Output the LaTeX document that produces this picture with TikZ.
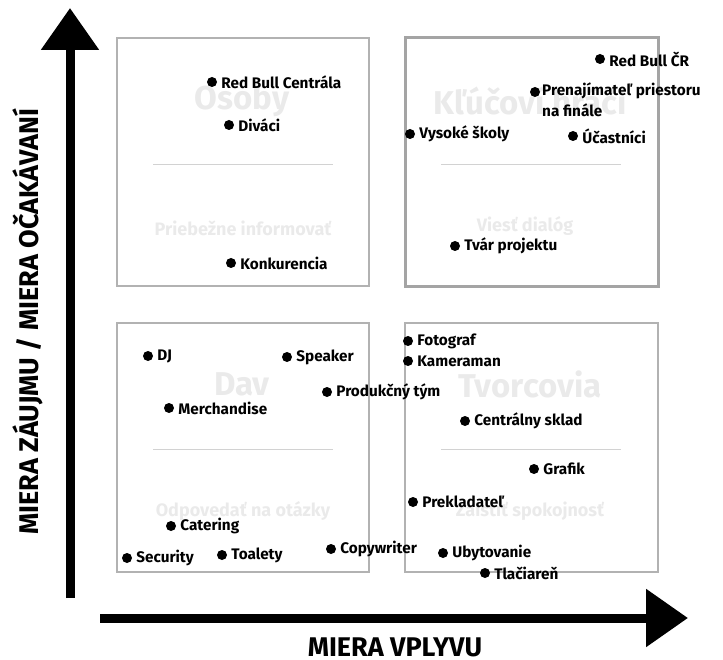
\documentclass[tikz,border=0pt]{standalone}
\usepackage{fontspec}
\setmainfont{Fira Sans}
\usetikzlibrary{arrows.meta,positioning}

\definecolor{boxgray}{HTML}{B2B2B2}
\definecolor{keygray}{HTML}{A4A4A4}
\definecolor{sepgray}{HTML}{D2D2D2}
\definecolor{ghostgray}{HTML}{EAEAEA}

\begin{document}
\begin{tikzpicture}[x=1pt,y=-1pt,
  quad/.style={draw=boxgray,line width=1.5pt},
  keyquad/.style={draw=keygray,line width=3pt},
  sep/.style={draw=sepgray,line width=1pt},
  dot/.style={circle,fill=black,inner sep=0pt,minimum size=10pt},
  lbl/.style={font=\bfseries\fontsize{15.3}{21}\selectfont,inner sep=0pt},
  ghost/.style={text=ghostgray,inner sep=0pt,font=\bfseries\fontsize{33}{36}\selectfont},
  ghostsub/.style={text=ghostgray,inner sep=0pt,font=\bfseries\fontsize{18}{21}\selectfont},
  axislbl/.style={inner sep=0pt,font=\bfseries\fontsize{27}{32}\selectfont},
  axis/.style={line width=9pt,-{Triangle[length=42pt,width=56pt]}}]
\useasboundingbox (0,0) rectangle (723,660);

% axes
\coordinate (yfoot) at (70,598);
\coordinate (ytip) at (70,8);
\coordinate (xfoot) at (100,618);
\coordinate (xtip) at (688,618);
\draw[axis] (yfoot) -- (ytip);
\draw[axis] (xfoot) -- (xtip);
\node[axislbl,rotate=90] (ylab) at (28,322) {MIERA ZÁUJMU / MIERA OČAKÁVANÍ};
\node[axislbl,anchor=base] (xlab) at (395,656) {MIERA VPLYVU};

% quadrants
\draw[quad] (117,38) rectangle (369,286);
\draw[keyquad] (405,38) rectangle (658,287);
\draw[quad] (117,323) rectangle (369,572);
\draw[quad] (405,323) rectangle (658,572);
\draw[sep] (153,165) -- (333,165);
\draw[sep] (441,165) -- (621,165);
\draw[sep] (153,449) -- (333,449);
\draw[sep] (441,449) -- (621,449);

% faded titles
\node[ghost] (tosoby) at (242,101) {Osoby};
\node[ghost] (tkluc) at (530,101) {Kľúčoví hráči};
\node[ghost] (tdav) at (242,384) {Dav};
\node[ghost] (ttvor) at (530,384) {Tvorcovia};
\node[ghostsub] (sosoby) at (243,228) {Priebežne informovať};
\node[ghostsub] (skluc) at (525,226) {Viesť dialóg};
\node[ghostsub] (sdav) at (243,511) {Odpovedať na otázky};
\node[ghostsub] (stvor) at (530,511) {Zaistiť spokojnosť};

% stakeholders
\foreach \n/\x/\y/\t in {rbc/212/82/Red Bull Centrála, divaci/229/125/Diváci,
    konk/231/263/Konkurencia, rbcr/600/59/Red Bull ČR, vysoke/410/134/Vysoké školy,
    ucast/573/136/Účastníci, tvar/455/246/Tvár projektu,
    dj/148/356/DJ, speaker/287/357/Speaker, produk/327/392/Produkčný tým,
    merch/169/408/Merchandise, cater/171/526/Catering, secur/127/558/Security,
    toal/222/555/Toalety, copy/331/549/Copywriter,
    foto/408/341/Fotograf, kamera/408/361/Kameraman, sklad/465/421/Centrálny sklad,
    grafik/534/469/Grafik, prekl/413/502/Prekladateľ, ubyt/443/553/Ubytovanie,
    tlac/485/573/Tlačiareň}{
  \node[dot] (d\n) at (\x,\y) {};
  \node[lbl,right=4pt of d\n] (t\n) {\t};
}
\node[dot] (dprenaj) at (535,92) {};
\node[lbl,align=left,anchor=north west] (tprenaj) at (542,83) {Prenajímateľ priestoru\\na finále};

\end{tikzpicture}
\end{document}
